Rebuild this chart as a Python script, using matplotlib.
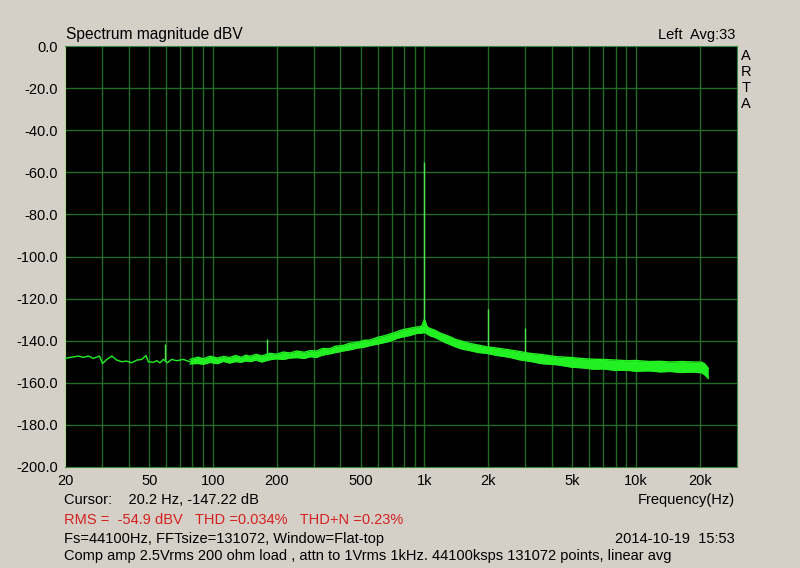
import matplotlib
matplotlib.use("Agg")
import matplotlib.pyplot as plt

plt.rcParams["font.family"] = ["Liberation Sans", "DejaVu Sans"]

# low-frequency part of the trace (thin line)
low_freq = [20, 23.1, 24.4, 25.8, 27.2, 29.1, 30.1, 31.5, 33.3, 35.1, 37.1, 39.1,
            41.3, 43.7, 46.1, 48.3, 49.5, 52.3, 54.3, 56.2, 58.3, 60.9, 63.8,
            67.4, 72.4, 78]
low_db = [-148.4, -147.3, -147.9, -147.3, -148.4, -147.3, -150.8, -148.9, -147.3,
          -149.2, -150.0, -149.7, -150.5, -149.2, -148.9, -147.0, -150.0, -150.3,
          -149.5, -150.5, -148.9, -150.5, -148.9, -149.5, -148.9, -150.0]

# noise band (upper / lower envelope)
band_freq = [78, 85, 90, 97, 105, 112, 120, 128, 136, 143, 150, 160, 170, 186,
             200, 215, 231, 250, 270, 288, 309, 330, 357, 380, 410, 444, 480, 520,
             552, 600, 650, 687, 730, 780, 853, 910, 970, 1000, 1030, 1062, 1120,
             1183, 1250, 1319, 1400, 1500, 1640, 1800, 1968, 2200, 2535, 2800,
             3153, 3600, 4218, 5000, 5600, 6282, 7000, 8000, 9025, 10000, 11500,
             12970, 14500, 16500, 18630, 20410, 21170, 21950]
band_hi = [-148.9, -147.8, -148.6, -147.4, -148.2, -147.5, -148.0, -147.0, -147.9,
           -146.9, -147.4, -146.5, -147.2, -146.0, -146.4, -145.4, -145.8, -144.9,
           -145.5, -144.7, -144.9, -143.7, -143.8, -142.6, -142.3, -141.2, -140.8,
           -139.8, -139.7, -138.4, -137.6, -136.8, -136.0, -134.9, -134.1, -133.6,
           -133.1, -129.9, -133.4, -134.2, -135.0, -136.3, -137.2, -138.1, -139.3,
           -140.2, -141.3, -142.1, -142.9, -143.5, -144.4, -145.1, -146.0, -146.6,
           -147.6, -148.0, -148.5, -148.8, -148.9, -149.2, -149.5, -149.4, -149.9,
           -149.8, -150.1, -149.9, -150.1, -150.2, -151.1, -153.1]
band_lo = [-151.0, -150.8, -151.2, -150.3, -150.9, -149.8, -150.6, -149.9, -150.2,
           -149.6, -149.9, -149.2, -150.1, -149.0, -148.6, -148.9, -148.2, -148.0,
           -148.4, -147.6, -147.9, -146.8, -146.2, -145.6, -144.9, -144.3, -143.5,
           -143.0, -142.3, -141.6, -140.8, -140.2, -139.1, -138.3, -137.5, -136.6,
           -136.4, -136.0, -136.8, -137.6, -138.4, -139.6, -140.8, -141.8, -142.9,
           -143.9, -144.7, -145.6, -146.0, -147.0, -147.9, -149.0, -149.8, -150.9,
           -151.4, -152.6, -152.9, -153.5, -153.4, -154.1, -154.0, -154.5, -154.3,
           -154.8, -154.6, -155.1, -154.9, -155.2, -156.3, -157.9]

# harmonic / hum spikes
spike_freq = [59.4, 179.6, 1000, 2000, 3000]
spike_top = [-141.6, -139.1, -55.1, -125.0, -134.0]
spike_base = [-149.0, -147.5, -132.0, -144.0, -147.5]

grid_freq = [30, 40, 50, 60, 70, 80, 90, 100, 200, 300, 400, 500, 600, 700, 800,
             900, 1000, 2000, 3000, 4000, 5000, 6000, 7000, 8000, 9000, 10000, 20000]
tick_freq = [20, 50, 100, 200, 500, 1000, 2000, 5000, 10000, 20000]
tick_labels = ["20", "50", "100", "200", "500", "1k", "2k", "5k", "10k", "20k"]
y_ticks = [0, -20, -40, -60, -80, -100, -120, -140, -160, -180, -200]

BG = "#d4d0c8"
GRID = "#1f6b24"
TRACE = "#22f022"

fig = plt.figure(figsize=(8, 5.68), dpi=100, facecolor=BG)
ax = fig.add_axes([65 / 800, 101 / 568, 672 / 800, 421 / 568])
ax.set_facecolor("black")
ax.set_xscale("log")
ax.set_xlim(20, 30000)
ax.set_ylim(-200, 0)

for f in grid_freq:
    ax.axvline(f, color=GRID, lw=1, zorder=1)
for v in y_ticks[1:-1]:
    ax.axhline(v, color=GRID, lw=1, zorder=1)

ax.plot(low_freq, low_db, color=TRACE, lw=1, zorder=3)
ax.fill_between(band_freq, band_lo, band_hi, color=TRACE, lw=0, zorder=3)
ax.plot(band_freq, band_hi, color=TRACE, lw=1, zorder=3)
ax.plot(band_freq, band_lo, color=TRACE, lw=1, zorder=3)
ax.vlines(spike_freq, spike_base, spike_top, color="#4ee84e", lw=1, zorder=2)

ax.set_xticks(tick_freq)
ax.set_xticklabels(tick_labels)
ax.set_xticks([], minor=True)
ax.set_yticks(y_ticks)
ax.set_yticklabels([f"{v:.1f}" for v in y_ticks])
ax.tick_params(length=0, labelsize=10.5, colors="black", pad=5)
for s in ax.spines.values():
    s.set_color("#3a8a3a")
ax.spines["left"].set_color("#b0d890")

fs = 10.5
fig.text(66 / 800, 1 - 35 / 568, "Spectrum magnitude dBV", fontsize=11.2, va="center")
fig.text(735 / 800, 1 - 35 / 568, "Left  Avg:33", fontsize=fs, va="center", ha="right")
for i, ch in enumerate("ARTA"):
    fig.text(746 / 800, 1 - (56 + 16 * i) / 568, ch, fontsize=fs, va="center", ha="center")
fig.text(735 / 800, 1 - 500 / 568, "Frequency(Hz)", fontsize=fs, va="center", ha="right")
fig.text(64 / 800, 1 - 500 / 568, "Cursor:    20.2 Hz, -147.22 dB", fontsize=fs, va="center")
fig.text(64 / 800, 1 - 520 / 568, "RMS =  -54.9 dBV   THD =0.034%   THD+N =0.23%",
         fontsize=fs, va="center", color="#d42020")
fig.text(64 / 800, 1 - 539 / 568, "Fs=44100Hz, FFTsize=131072, Window=Flat-top",
         fontsize=fs, va="center")
fig.text(735 / 800, 1 - 539 / 568, "2014-10-19  15:53", fontsize=fs, va="center", ha="right")
fig.text(64 / 800, 1 - 556 / 568,
         "Comp amp 2.5Vrms 200 ohm load , attn to 1Vrms 1kHz. 44100ksps 131072 points, linear avg",
         fontsize=fs, va="center")

fig.savefig("out.png", dpi=100, facecolor=BG)
